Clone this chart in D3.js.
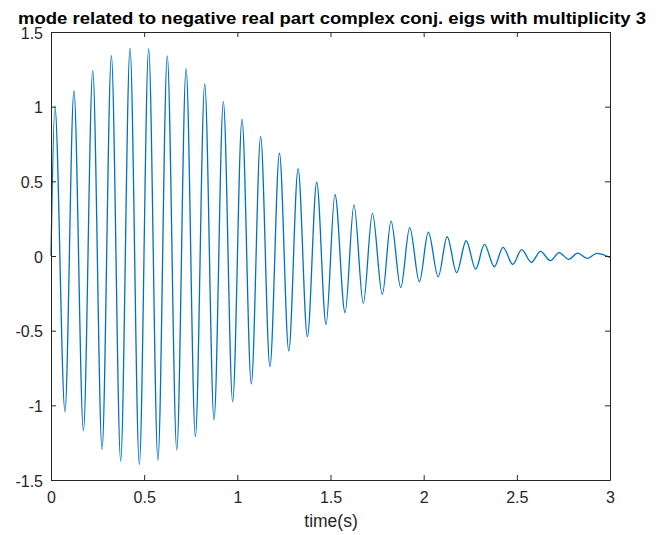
<!DOCTYPE html>
<html>
<head>
<meta charset="utf-8">
<script src="https://cdn.jsdelivr.net/npm/d3@7"></script>
<style>
  html, body { margin: 0; padding: 0; background: #fff; }
  svg { display: block; }
  text { font-family: "Liberation Sans", Arial, Helvetica, sans-serif; }
</style>
</head>
<body>
<div id="chart"></div>
<script>
// Data: start point, then alternating peaks/troughs, then end point
const times = [
  0.000, 0.021, 0.075, 0.123, 0.174, 0.224, 0.274, 0.324, 0.374, 0.424, 0.474,
  0.524, 0.574, 0.624, 0.675, 0.725, 0.775, 0.825, 0.875, 0.925, 0.975,
  1.025, 1.075, 1.125, 1.175, 1.226, 1.276, 1.326, 1.376, 1.426, 1.476,
  1.524, 1.578, 1.626, 1.676, 1.725, 1.778, 1.825, 1.877, 1.925, 1.977,
  2.025, 2.078, 2.126, 2.177, 2.228, 2.279, 2.326, 2.379, 2.426, 2.478,
  2.526, 2.578, 2.627, 2.680, 2.727, 2.778, 2.827, 2.877, 2.929, 3.000
];
const values = [
  0.000, 1.000, -1.043, 1.107, -1.170, 1.241, -1.295, 1.341, -1.373, 1.390, -1.395,
  1.386, -1.368, 1.340, -1.300, 1.257, -1.210, 1.152, -1.098, 1.034, -0.976,
  0.916, -0.857, 0.800, -0.741, 0.688, -0.636, 0.585, -0.540, 0.494, -0.458,
  0.413, -0.380, 0.342, -0.317, 0.286, -0.257, 0.234, -0.212, 0.190, -0.172,
  0.159, -0.139, 0.129, -0.112, 0.102, -0.088, 0.078, -0.072, 0.058, -0.056,
  0.043, -0.042, 0.031, -0.031, 0.023, -0.022, 0.019, -0.016, 0.017, -0.010
];
const xTicks = [0, 0.5, 1, 1.5, 2, 2.5, 3];
const yTicks = [-1.5, -1, -0.5, 0, 0.5, 1, 1.5];
const titleText = "mode related to negative real part complex conj. eigs with multiplicity 3";
const xLabelText = "time(s)";

const W = 661, H = 535;
const L = 51, R = 610, T = 32, B = 480;
const axisColor = "#262626";
const lineColor = "#0072BD";

const svg = d3.select("#chart").append("svg").attr("width", W).attr("height", H);

const x = d3.scaleLinear().domain([0, 3]).range([L, R]);
const y = d3.scaleLinear().domain([-1.5, 1.5]).range([B, T]);
const fmt = d => String(d);

const data = times.map((t, i) => ({ t, v: values[i] }));

// Curve
const line = d3.line().x(d => x(d.t)).y(d => y(d.v)).curve(d3.curveMonotoneX);
svg.append("path").datum(data)
  .attr("fill", "none").attr("stroke", lineColor).attr("stroke-width", 1.3)
  .attr("d", line);

function styleAxis(g) {
  g.selectAll(".domain").attr("stroke", axisColor).attr("stroke-width", 1);
  g.selectAll(".tick line").attr("stroke", axisColor).attr("stroke-width", 1);
  g.selectAll("text").attr("fill", axisColor).style("font-size", "16px")
    .style("font-family", "'Liberation Sans', Arial, sans-serif");
}

// Bottom axis
svg.append("g").attr("transform", `translate(0,${B})`)
  .call(d3.axisBottom(x).tickValues(xTicks).tickFormat(fmt).tickSizeInner(-5).tickSizeOuter(0).tickPadding(12))
  .call(styleAxis);
// Top axis (ticks only)
svg.append("g").attr("transform", `translate(0,${T})`)
  .call(d3.axisTop(x).tickValues(xTicks).tickFormat("").tickSizeInner(-5).tickSizeOuter(0))
  .call(styleAxis);
// Left axis
svg.append("g").attr("transform", `translate(${L},0)`)
  .call(d3.axisLeft(y).tickValues(yTicks).tickFormat(fmt).tickSizeInner(-5).tickSizeOuter(0).tickPadding(8))
  .call(styleAxis)
  .call(g => g.selectAll("text").attr("dy", "0.38em"));
// Right axis (ticks only)
svg.append("g").attr("transform", `translate(${R},0)`)
  .call(d3.axisRight(y).tickValues(yTicks).tickFormat("").tickSizeInner(-5).tickSizeOuter(0))
  .call(styleAxis);

// Title
svg.append("text").attr("x", 332).attr("y", 24)
  .attr("text-anchor", "middle").attr("fill", "#000")
  .attr("textLength", 628).attr("lengthAdjust", "spacingAndGlyphs")
  .style("font-size", "16.5px").style("font-weight", "bold")
  .text(titleText);

// X label
svg.append("text").attr("x", 331).attr("y", 527)
  .attr("text-anchor", "middle").attr("fill", axisColor)
  .style("font-size", "17.5px")
  .text(xLabelText);
</script>
</body>
</html>
